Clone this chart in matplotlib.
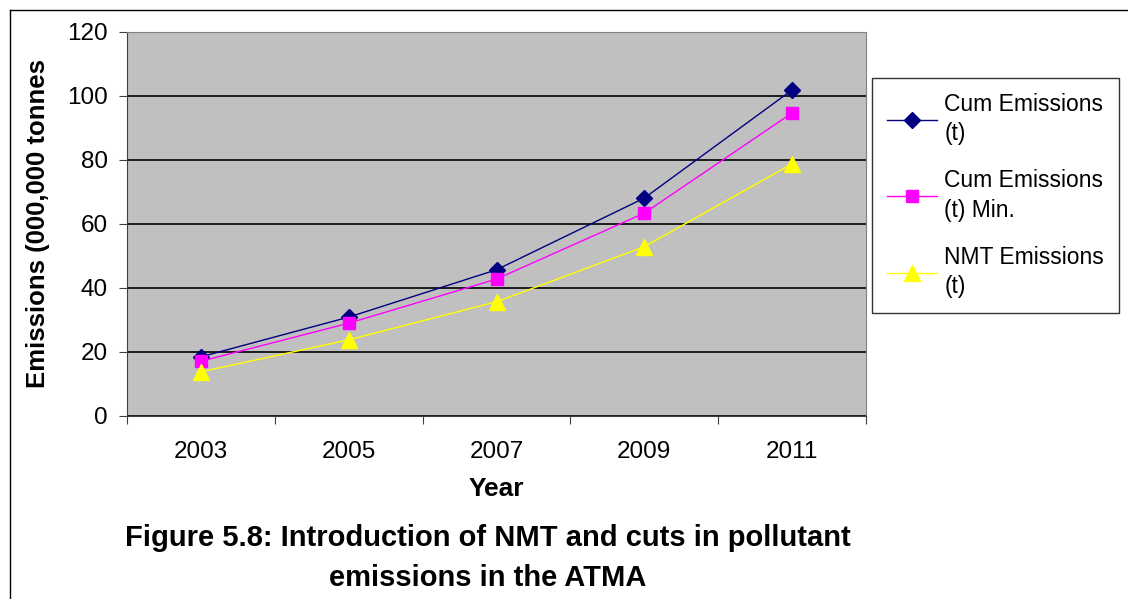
import matplotlib
matplotlib.use("Agg")
import matplotlib.pyplot as plt
from matplotlib.lines import Line2D

plt.rcParams['font.family'] = ['Liberation Sans', 'DejaVu Sans']

years = ['2003', '2005', '2007', '2009', '2011']
cum_emissions = [18.5, 30.9, 45.7, 68.1, 101.9]
cum_emissions_min = [17.1, 29.0, 42.8, 63.4, 94.7]
nmt_emissions = [13.8, 23.8, 35.7, 52.9, 78.8]
labels = ['Cum Emissions\n(t)', 'Cum Emissions\n(t) Min.', 'NMT Emissions\n(t)']

fig = plt.figure(figsize=(11.28, 5.99), dpi=100)
ax = fig.add_axes([127 / 1128, 1 - 416 / 599, (866 - 127) / 1128, (416 - 32) / 599])
ax.set_facecolor('#C0C0C0')

x = list(range(len(years)))
ax.plot(x, cum_emissions, color='#000080', marker='D', markersize=8, lw=1, label=labels[0])
ax.plot(x, cum_emissions_min, color='#FF00FF', marker='s', markersize=8, lw=1, label=labels[1])
ax.plot(x, nmt_emissions, color='#FFFF00', marker='^', markersize=11, lw=1, label=labels[2])

ax.set_xlim(-0.5, len(years) - 0.5)
ax.set_ylim(0, 120)
ax.set_yticks(range(0, 121, 20))
ax.set_xticks([i - 0.5 for i in range(len(years) + 1)], minor=False)
ax.set_xticklabels([''] * (len(years) + 1))
ax.set_xticks(x, minor=True)
ax.set_xticklabels(years, minor=True)
ax.tick_params(axis='x', which='minor', length=0, pad=18, labelsize=17.5)
ax.tick_params(axis='x', which='major', length=6, color='#404040', direction='out')
ax.tick_params(axis='y', length=6, color='#404040', direction='out', labelsize=17.5, pad=8)
ax.yaxis.grid(True, color='black', lw=1.2)
ax.set_axisbelow(True)
for s in ['top', 'right']:
    ax.spines[s].set_color('#808080')
for s in ['left', 'bottom']:
    ax.spines[s].set_color('#404040')

ax.set_ylabel('Emissions (000,000 tonnes', fontsize=18.5, fontweight='bold', labelpad=12)
ax.set_xlabel('Year', fontsize=19, fontweight='bold', labelpad=10)

leg = fig.legend(loc='upper left', bbox_to_anchor=(872 / 1128, 1 - 78 / 599),
                 fontsize=16.5, frameon=True, fancybox=False, edgecolor='black',
                 handlelength=2.2, labelspacing=1.05, borderpad=0.65, handletextpad=0.3,
                 borderaxespad=0)
leg.get_frame().set_linewidth(1)
for t in leg.get_texts():
    t.set_linespacing(1.35)

fig.text(488 / 1128, 1 - 538 / 599, 'Figure 5.8: Introduction of NMT and cuts in pollutant',
         ha='center', va='center', fontsize=21, fontweight='bold')
fig.text(488 / 1128, 1 - 578 / 599, 'emissions in the ATMA',
         ha='center', va='center', fontsize=21, fontweight='bold')

# outer frame
fig.add_artist(Line2D([10 / 1128, 10 / 1128], [0, 1 - 10 / 599], color='black', lw=1))
fig.add_artist(Line2D([10 / 1128, 1127 / 1128], [1 - 10 / 599, 1 - 10 / 599], color='black', lw=1))

fig.savefig('out.png', dpi=100)
